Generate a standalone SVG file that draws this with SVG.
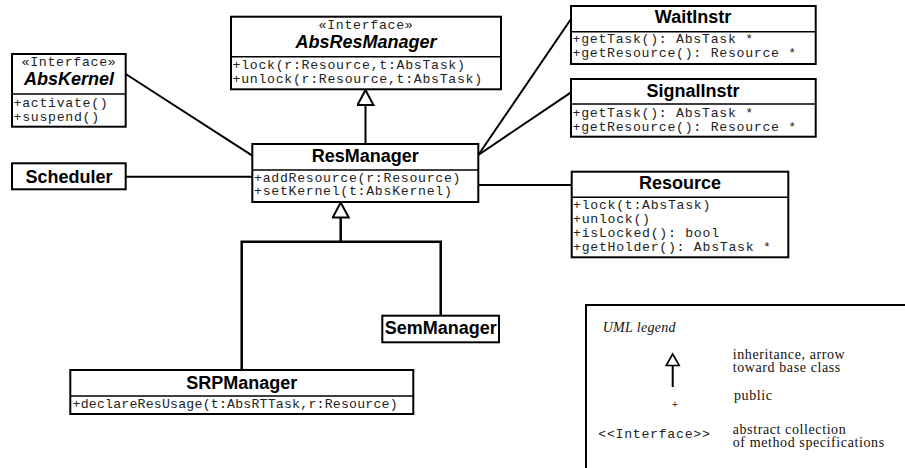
<svg xmlns="http://www.w3.org/2000/svg" width="905" height="468" viewBox="0 0 905 468">
<style>
.box{fill:#fff;stroke:#000;stroke-width:2}
.sep{stroke:#000;stroke-width:1.6}
.t{font-family:"Liberation Sans",Arial,sans-serif;font-weight:bold;font-size:18px;text-anchor:middle;fill:#000}
.ti{font-style:italic}
.m{font-family:"Liberation Mono","Courier New",monospace;font-size:13.2px;letter-spacing:0.72px;fill:#222}
.st{text-anchor:middle}
.c{fill:none;stroke:#000;stroke-width:2}
.ci{fill:none;stroke:#000;stroke-width:2.5}
.lg{font-family:"Liberation Serif","Times New Roman",serif;font-size:14px;letter-spacing:0.6px;fill:#111}
</style>
<defs>
<marker id="inh" viewBox="0 0 18 18" refX="17" refY="9" markerWidth="18" markerHeight="18" markerUnits="userSpaceOnUse" orient="auto">
<path d="M17,9 L2,1 L2,17 Z" fill="#fff" stroke="#000" stroke-width="2"/>
</marker>
</defs>

<g id="connectors">
<line class="c" x1="125.7" y1="74" x2="252.3" y2="155.7"/>
<line class="c" x1="125.7" y1="176.7" x2="252.3" y2="176.7"/>
<line class="c" x1="478.3" y1="155" x2="571" y2="19"/>
<line class="c" x1="478.3" y1="155" x2="571" y2="92.3"/>
<line class="c" x1="478.3" y1="185" x2="571.7" y2="185"/>
<path class="c" d="M365.5,144 V90" marker-end="url(#inh)"/>
<path class="ci" d="M241.7,370 V241.7 H440.7 V315.7"/>
<path class="ci" d="M340.7,241.7 V202.5" marker-end="url(#inh)"/>
</g>

<g id="AbsKernel">
<rect class="box" x="12" y="54" width="113.7" height="72.7"/>
<line class="sep" x1="12" y1="94" x2="125.7" y2="94"/>
<text class="m st" x="69" y="66">«Interface»</text>
<text class="t ti" x="69" y="85">AbsKernel</text>
<text class="m" x="13.5" y="107">+activate()</text>
<text class="m" x="13.5" y="121">+suspend()</text>
</g>

<g id="Scheduler">
<rect class="box" x="12" y="163.3" width="113.7" height="26"/>
<text class="t" x="69" y="182.7">Scheduler</text>
</g>

<g id="AbsResManager">
<rect class="box" x="231" y="16.7" width="270" height="72.6"/>
<line class="sep" x1="231" y1="56.7" x2="501" y2="56.7"/>
<text class="m st" x="366" y="29.3">«Interface»</text>
<text class="t ti" x="366" y="48.3">AbsResManager</text>
<text class="m" x="232.5" y="69">+lock(r:Resource,t:AbsTask)</text>
<text class="m" x="232.5" y="83.3">+unlock(r:Resource,t:AbsTask)</text>
</g>

<g id="ResManager">
<rect class="box" x="252.3" y="144" width="226" height="58"/>
<line class="sep" x1="252.3" y1="170" x2="478.3" y2="170"/>
<text class="t" x="365.3" y="161.7">ResManager</text>
<text class="m" x="254" y="181.7">+addResource(r:Resource)</text>
<text class="m" x="254" y="195.3">+setKernel(t:AbsKernel)</text>
</g>

<g id="WaitInstr">
<rect class="box" x="571" y="6" width="244.7" height="58"/>
<line class="sep" x1="571" y1="31.7" x2="815.7" y2="31.7"/>
<text class="t" x="693" y="22.7">WaitInstr</text>
<text class="m" x="572.5" y="43.3">+getTask(): AbsTask *</text>
<text class="m" x="572.5" y="57.3">+getResource(): Resource *</text>
</g>

<g id="SignalInstr">
<rect class="box" x="571" y="79" width="244.7" height="57.7"/>
<line class="sep" x1="571" y1="104" x2="815.7" y2="104"/>
<text class="t" x="693" y="96.7">SignalInstr</text>
<text class="m" x="572.5" y="117.3">+getTask(): AbsTask *</text>
<text class="m" x="572.5" y="131">+getResource(): Resource *</text>
</g>

<g id="Resource">
<rect class="box" x="571.7" y="171.7" width="216.6" height="85.6"/>
<line class="sep" x1="571.7" y1="197.3" x2="788.3" y2="197.3"/>
<text class="t" x="680" y="188.7">Resource</text>
<text class="m" x="573" y="209">+lock(t:AbsTask)</text>
<text class="m" x="573" y="223">+unlock()</text>
<text class="m" x="573" y="237">+isLocked(): bool</text>
<text class="m" x="573" y="251">+getHolder(): AbsTask *</text>
</g>

<g id="SemManager">
<rect class="box" x="382.3" y="315.7" width="116.7" height="26.6"/>
<text class="t" x="440.7" y="334">SemManager</text>
</g>

<g id="SRPManager">
<rect class="box" x="70.3" y="370" width="343" height="44"/>
<line class="sep" x1="70.3" y1="396" x2="413.3" y2="396"/>
<text class="t" x="241.8" y="388.7">SRPManager</text>
<text class="m" x="72.5" y="408.3" style="letter-spacing:0.22px">+declareResUsage(t:AbsRTTask,r:Resource)</text>
</g>

<g id="legend">
<path d="M586,468 V305 H905" fill="none" stroke="#000" stroke-width="2"/>
<text class="lg" x="602.7" y="331.7" style="font-style:italic;letter-spacing:0.3px">UML legend</text>
<line x1="672.7" y1="387" x2="672.7" y2="365" stroke="#000" stroke-width="2"/>
<polygon points="672.7,354 666.2,365.5 679.2,365.5" fill="#fff" stroke="#000" stroke-width="1.6"/>
<text class="lg" x="732.7" y="358.5">inheritance, arrow</text>
<text class="lg" x="732.7" y="372">toward base class</text>
<text x="675" y="408" style="font-family:'Liberation Sans',Arial,sans-serif;font-size:10px;text-anchor:middle;fill:#333">+</text>
<text class="lg" x="734" y="400">public</text>
<text class="m" x="598.3" y="437.7">&lt;&lt;Interface&gt;&gt;</text>
<text class="lg" x="732.7" y="433.5">abstract collection</text>
<text class="lg" x="732.7" y="447">of method specifications</text>
</g>
</svg>
